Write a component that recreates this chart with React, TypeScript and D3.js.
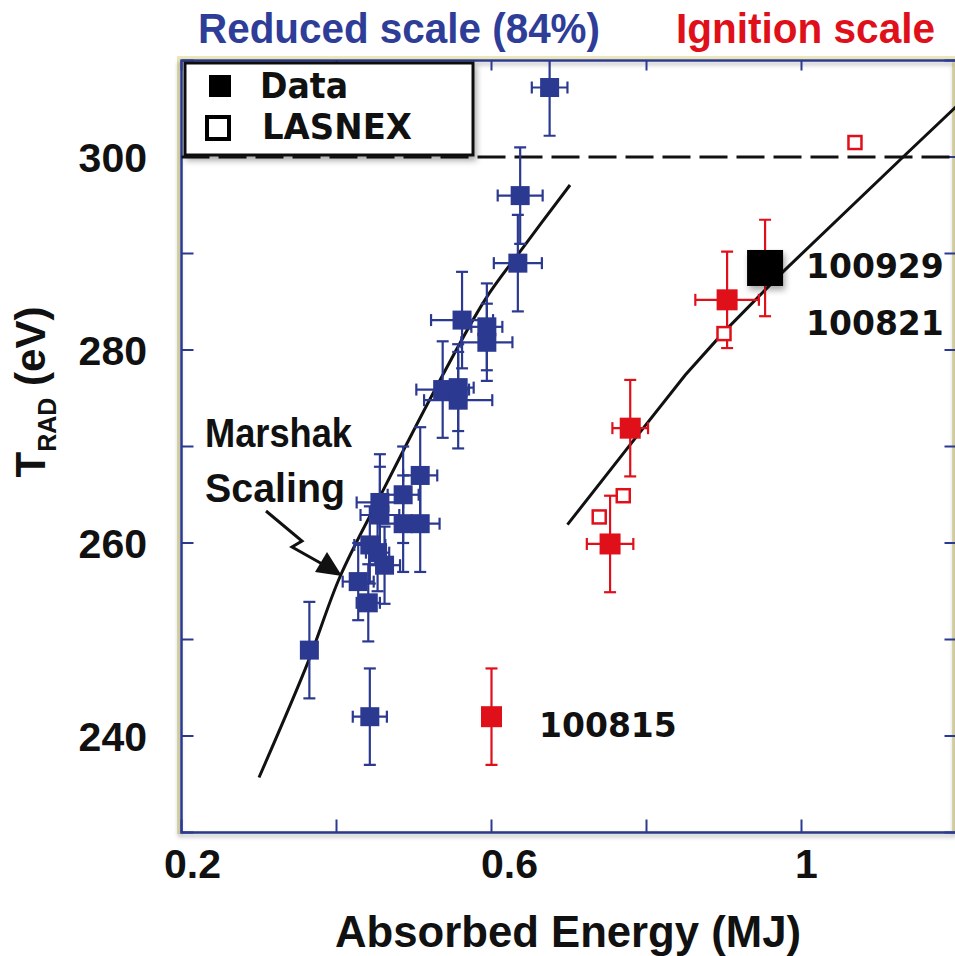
import React, { useEffect, useRef } from 'react';
import * as d3 from 'd3';

// reduced scale (84%) shots, blue
const reducedEnergy = [0.675, 0.637, 0.634, 0.562, 0.594, 0.594, 0.537, 0.557, 0.557, 0.456, 0.456, 0.486, 0.486, 0.508, 0.508, 0.443, 0.462, 0.428, 0.441, 0.365, 0.443, 0.453];
const reducedTrad = [307.2, 296.0, 289.0, 283.1, 282.4, 280.8, 275.9, 276.1, 274.8, 264.2, 262.9, 265.0, 262.0, 262.0, 267.0, 259.8, 257.7, 256.0, 253.8, 248.9, 242.0, 259.0];
const reducedEnergyErr = [0.023, 0.029, 0.031, 0.04, 0.02, 0.033, 0.034, 0.02, 0.044, 0.03, 0.025, 0.02, 0.03, 0.025, 0.022, 0.02, 0.02, 0.02, 0.015, 0.007, 0.022, 0.015];
const reducedTradErr = [5, 5, 5, 5, 4.5, 4, 5, 4.5, 5, 5, 5, 5, 5, 5, 5, 4, 4, 4, 4, 5, 5, 4];

// ignition scale shots, red
const ignitionEnergy = [0.6, 0.753, 0.779, 0.904];
const ignitionTrad = [242.0, 259.9, 271.9, 285.2];
const ignitionEnergyErr = [0.005, 0.03, 0.023, 0.041];
const ignitionTradErr = [5, 5, 5, 5];

// 100929 / 100821 combined point
const combinedEnergy = [0.953];
const combinedTrad = [288.5];
const combinedTradErr = [5];

// LASNEX calculations (open squares)
const lasnexEnergy = [1.069, 0.9, 0.77, 0.739];
const lasnexTrad = [301.5, 281.7, 264.9, 262.7];

// Marshak scaling curves
const marshakEnergy = [0.3, 0.363, 0.4045, 0.456, 0.5245, 0.5916, 0.6368, 0.7013];
const marshakTrad = [235.7, 247.6, 256.5, 264.8, 275.5, 285.2, 290.2, 297.1];
const ignitionCurveEnergy = [0.698, 0.779, 0.85, 0.899, 0.976, 1.131, 1.198, 1.22];
const ignitionCurveTrad = [261.9, 270.2, 277.4, 281.8, 288.1, 300.0, 305.1, 306.8];

const xTicks = [0.2, 0.4, 0.6, 0.8, 1.0, 1.2];
const xTickLabels = [[0.2, '0.2'], [0.6, '0.6'], [1.0, '1']];
const yTicks = [230, 240, 250, 260, 270, 280, 290, 300, 310];
const yTickLabels = [240, 260, 280, 300];
const ignitionLimit = 300;

const BLUE = '#2b3990';
const RED = '#e0101a';
const ARIAL = '"Liberation Sans", Arial, sans-serif';
const NARROW = '"Liberation Sans Narrow", "Liberation Sans", Arial, sans-serif';
const VERDANA = '"DejaVu Sans", Verdana, sans-serif';

const App: React.FC = () => {
  const svgRef = useRef<SVGSVGElement>(null);
  const width = 955;
  const height = 956;

  useEffect(() => {
    if (!svgRef.current) return;
    const svg = d3.select(svgRef.current);
    svg.selectAll('*').remove();

    const left = 181.5, right = 956.5, top = 60.5, bottom = 832.5;
    const x = d3.scaleLinear().domain([0.2, 1.2]).range([left, right]);
    const y = d3.scaleLinear().domain([230, 310]).range([bottom, top]);

    const defs = svg.append('defs');
    defs.append('clipPath').attr('id', 'plot-clip')
      .append('rect').attr('x', left).attr('y', top)
      .attr('width', right - left).attr('height', bottom - top);
    const shadow = defs.append('filter').attr('id', 'shadow')
      .attr('x', '-10%').attr('y', '-10%').attr('width', '130%').attr('height', '140%');
    shadow.append('feDropShadow').attr('dx', 2).attr('dy', 4)
      .attr('stdDeviation', 3).attr('flood-color', '#000').attr('flood-opacity', 0.35);
    const frameShadow = defs.append('filter').attr('id', 'frame-shadow')
      .attr('x', '-5%').attr('y', '-5%').attr('width', '110%').attr('height', '110%');
    frameShadow.append('feDropShadow').attr('dx', -2).attr('dy', 3)
      .attr('stdDeviation', 2).attr('flood-color', '#000').attr('flood-opacity', 0.3);

    svg.append('rect').attr('width', width).attr('height', height).attr('fill', '#fff');

    // frame
    const frame = svg.append('g');
    frame.append('rect')
      .attr('x', left - 3).attr('y', top - 3)
      .attr('width', right - left).attr('height', bottom - top + 3)
      .attr('fill', 'none').attr('stroke', '#ebe7b8').attr('stroke-width', 3);
    frame.append('rect')
      .attr('x', left).attr('y', top)
      .attr('width', right - left).attr('height', bottom - top)
      .attr('fill', 'none').attr('stroke', BLUE).attr('stroke-width', 2.5)
      .attr('filter', 'url(#frame-shadow)');

    // ticks, pointing inward
    const tickG = svg.append('g').attr('stroke', BLUE).attr('stroke-width', 2);
    xTicks.forEach(v => {
      tickG.append('line').attr('x1', x(v)).attr('x2', x(v)).attr('y1', bottom).attr('y2', bottom - 13);
      tickG.append('line').attr('x1', x(v)).attr('x2', x(v)).attr('y1', top).attr('y2', top + 10);
    });
    yTicks.forEach(v => {
      tickG.append('line').attr('x1', left).attr('x2', left + 12).attr('y1', y(v)).attr('y2', y(v));
      tickG.append('line').attr('x1', right).attr('x2', right - 12).attr('y1', y(v)).attr('y2', y(v));
    });

    // tick labels
    xTickLabels.forEach(([v, label], i) => {
      svg.append('text')
        .attr('x', x(v as number) + [11, 18, 5][i]).attr('y', 878)
        .attr('text-anchor', 'middle')
        .attr('font-family', ARIAL).attr('font-weight', 'bold').attr('font-size', 41)
        .attr('fill', '#111')
        .text(label as string);
    });
    yTickLabels.forEach(v => {
      svg.append('text')
        .attr('x', 147).attr('y', y(v))
        .attr('dy', '0.36em')
        .attr('text-anchor', 'end')
        .attr('font-family', ARIAL).attr('font-weight', 'bold').attr('font-size', 41)
        .attr('fill', '#111')
        .text(v);
    });

    // axis titles
    svg.append('text')
      .attr('x', 568).attr('y', 947)
      .attr('text-anchor', 'middle')
      .attr('textLength', 466).attr('lengthAdjust', 'spacingAndGlyphs')
      .attr('font-family', ARIAL).attr('font-weight', 'bold').attr('font-size', 44)
      .attr('fill', '#111')
      .text('Absorbed Energy (MJ)');

    const yTitle = svg.append('text')
      .attr('transform', 'translate(45, 392) rotate(-90)')
      .attr('text-anchor', 'middle')
      .attr('font-family', ARIAL).attr('font-weight', 'bold').attr('font-size', 42)
      .attr('fill', '#111');
    yTitle.append('tspan').text('T');
    yTitle.append('tspan').attr('font-size', 25).attr('dy', 11).text('RAD');
    yTitle.append('tspan').attr('dy', -11).text(' (eV)');

    // top headings
    svg.append('text')
      .attr('x', 198).attr('y', 43)
      .attr('textLength', 402).attr('lengthAdjust', 'spacingAndGlyphs')
      .attr('font-family', NARROW).attr('font-weight', 'bold').attr('font-size', 42)
      .attr('fill', '#2e3d98')
      .text('Reduced scale (84%)');
    svg.append('text')
      .attr('x', 676).attr('y', 43)
      .attr('textLength', 259).attr('lengthAdjust', 'spacingAndGlyphs')
      .attr('font-family', NARROW).attr('font-weight', 'bold').attr('font-size', 42)
      .attr('fill', RED)
      .text('Ignition scale');

    // dashed 300 eV line
    svg.append('line')
      .attr('x1', left).attr('x2', right)
      .attr('y1', y(ignitionLimit)).attr('y2', y(ignitionLimit))
      .attr('stroke', '#111').attr('stroke-width', 3)
      .attr('stroke-dasharray', '28 9');

    const plot = svg.append('g').attr('clip-path', 'url(#plot-clip)');

    // Marshak scaling curves
    const line = d3.line<[number, number]>()
      .x(d => x(d[0])).y(d => y(d[1]))
      .curve(d3.curveCatmullRom);
    plot.append('path')
      .attr('d', line(marshakEnergy.map((e, i) => [e, marshakTrad[i]])))
      .attr('fill', 'none').attr('stroke', '#111').attr('stroke-width', 3);
    plot.append('path')
      .attr('d', d3.line<[number, number]>().x(d => x(d[0])).y(d => y(d[1]))(
        ignitionCurveEnergy.map((e, i) => [e, ignitionCurveTrad[i]])))
      .attr('fill', 'none').attr('stroke', '#111').attr('stroke-width', 3);

    const errorBars = (g, e, t, de, dt, color) => {
      const cap = 6;
      e.forEach((ev, i) => {
        const cx = x(ev), cy = y(t[i]);
        if (dt && dt[i]) {
          const y1 = y(t[i] - dt[i]), y2 = y(t[i] + dt[i]);
          g.append('line').attr('x1', cx).attr('x2', cx).attr('y1', y1).attr('y2', y2)
            .attr('stroke', color).attr('stroke-width', 2.2);
          [y1, y2].forEach(yy => g.append('line')
            .attr('x1', cx - cap).attr('x2', cx + cap).attr('y1', yy).attr('y2', yy)
            .attr('stroke', color).attr('stroke-width', 2.2));
        }
        if (de && de[i]) {
          const x1 = x(ev - de[i]), x2 = x(ev + de[i]);
          g.append('line').attr('x1', x1).attr('x2', x2).attr('y1', cy).attr('y2', cy)
            .attr('stroke', color).attr('stroke-width', 2.2);
          [x1, x2].forEach(xx => g.append('line')
            .attr('x1', xx).attr('x2', xx).attr('y1', cy - cap).attr('y2', cy + cap)
            .attr('stroke', color).attr('stroke-width', 2.2));
        }
      });
    };

    const squares = (g, e, t, size, fill, stroke, sw) => {
      g.selectAll(null)
        .data(e.map((ev, i) => [ev, t[i]]))
        .join('rect')
        .attr('x', d => x(d[0]) - size / 2)
        .attr('y', d => y(d[1]) - size / 2)
        .attr('width', size).attr('height', size)
        .attr('fill', fill)
        .attr('stroke', stroke).attr('stroke-width', sw);
    };

    errorBars(plot, reducedEnergy, reducedTrad, reducedEnergyErr, reducedTradErr, BLUE);
    squares(plot, reducedEnergy, reducedTrad, 19, BLUE, 'none', 0);

    errorBars(plot, ignitionEnergy, ignitionTrad, ignitionEnergyErr, ignitionTradErr, RED);
    errorBars(plot, combinedEnergy, combinedTrad, null, combinedTradErr, RED);
    squares(plot, lasnexEnergy, lasnexTrad, 13, '#fff', RED, 2.5);
    squares(plot, ignitionEnergy, ignitionTrad, 21, RED, 'none', 0);
    const black = plot.append('g').attr('filter', 'url(#shadow)');
    squares(black, combinedEnergy, combinedTrad, 36, '#000', 'none', 0);

    // shot labels
    const shotLabel = (tx, ty, label) => svg.append('text')
      .attr('x', tx).attr('y', ty)
      .attr('font-family', VERDANA).attr('font-weight', 'bold').attr('font-size', 33)
      .attr('fill', '#111')
      .text(label);
    shotLabel(806, 278, '100929');
    shotLabel(806, 335, '100821');
    shotLabel(539, 737, '100815');

    // Marshak annotation
    const ann = svg.append('g').attr('font-family', NARROW).attr('font-weight', 'bold')
      .attr('font-size', 41).attr('fill', '#111');
    ann.append('text').attr('x', 205).attr('y', 447)
      .attr('textLength', 147).attr('lengthAdjust', 'spacingAndGlyphs').text('Marshak');
    ann.append('text').attr('x', 205).attr('y', 502)
      .attr('textLength', 140).attr('lengthAdjust', 'spacingAndGlyphs').text('Scaling');
    svg.append('path')
      .attr('d', 'M266,511 L302,541 L292,547 L324,565')
      .attr('fill', 'none').attr('stroke', '#111').attr('stroke-width', 3);
    svg.append('path')
      .attr('d', 'M342,576 L315,572 L327,552 Z')
      .attr('fill', '#111');

    // legend
    const legend = svg.append('g');
    legend.append('rect')
      .attr('x', 185).attr('y', 63).attr('width', 288).attr('height', 92)
      .attr('fill', '#fff').attr('stroke', '#111').attr('stroke-width', 3)
      .attr('filter', 'url(#shadow)');
    legend.append('rect').attr('x', 209).attr('y', 75).attr('width', 22).attr('height', 22)
      .attr('fill', '#000');
    legend.append('rect').attr('x', 207).attr('y', 117).attr('width', 22).attr('height', 22)
      .attr('fill', '#fff').attr('stroke', '#000').attr('stroke-width', 4);
    legend.append('text').attr('x', 260).attr('y', 98)
      .attr('textLength', 88).attr('lengthAdjust', 'spacingAndGlyphs')
      .attr('font-family', VERDANA).attr('font-weight', 'bold').attr('font-size', 36)
      .attr('fill', '#111').text('Data');
    legend.append('text').attr('x', 262).attr('y', 139)
      .attr('textLength', 150).attr('lengthAdjust', 'spacingAndGlyphs')
      .attr('font-family', VERDANA).attr('font-weight', 'bold').attr('font-size', 36)
      .attr('fill', '#111').text('LASNEX');
  }, []);

  return (
    <svg
      ref={svgRef}
      width={width}
      height={height}
      style={{ position: 'absolute', left: 0, top: 0, display: 'block' }}
    />
  );
};

export default App;
